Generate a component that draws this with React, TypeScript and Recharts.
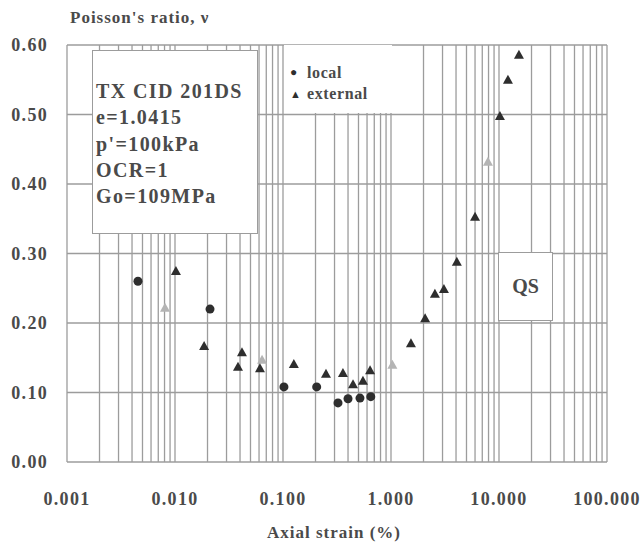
import { CartesianGrid, Scatter, ScatterChart, XAxis, YAxis } from "recharts";

// axial strain (%) / Poisson's ratio
const localStrain = [0.00454, 0.0211, 0.102, 0.205, 0.323, 0.4, 0.516, 0.65];
const localNu = [0.26, 0.22, 0.108, 0.108, 0.085, 0.091, 0.092, 0.094];

const externalStrain = [
  0.0102, 0.0186, 0.0417, 0.0383, 0.0612, 0.126, 0.25, 0.359, 0.445, 0.55, 0.64,
  1.53, 2.07, 2.55, 3.09, 4.07, 6.0, 10.2, 12.1, 15.3,
];
const externalNu = [
  0.275, 0.167, 0.158, 0.137, 0.135, 0.141, 0.127, 0.128, 0.112, 0.117, 0.132,
  0.171, 0.207, 0.242, 0.249, 0.288, 0.353, 0.498, 0.55, 0.586,
];

// points that barely printed in the scan
const fadedStrain = [0.00808, 0.064, 1.03, 7.9];
const fadedNu = [0.222, 0.147, 0.14, 0.432];

const decades = [0.001, 0.01, 0.1, 1, 10];
const minorSteps = [1, 2, 3, 4, 5, 6, 7, 8, 9];
const strainTicks = decades
  .flatMap((d) => minorSteps.map((k) => Number((d * k).toPrecision(3))))
  .concat(100);
const nuTicks = [0, 0.1, 0.2, 0.3, 0.4, 0.5, 0.6];

const specimen = ["TX CID 201DS", "e=1.0415", "p'=100kPa", "OCR=1", "Go=109MPa"];

const toPoints = (xs: number[], ys: number[]) => xs.map((x, i) => ({ x, y: ys[i] }));

const FONT = '"Liberation Serif", "Times New Roman", serif';
const INK = "#4a4a4a";
const GRID = "#9c9c9c";
const MARK = "#2e2e2e";

const isDecade = (v: number) => Math.abs(Math.log10(v) - Math.round(Math.log10(v))) < 1e-6;

function StrainTick({ x, y, payload }: any) {
  if (!isDecade(payload.value)) return null;
  return (
    <text
      x={x}
      y={y + 35}
      textAnchor="middle"
      dominantBaseline="central"
      fill={INK}
      style={{ fontFamily: FONT, fontWeight: 700, fontSize: 18, letterSpacing: 1.3 }}
    >
      {payload.value.toFixed(3)}
    </text>
  );
}

function NuTick({ x, y, payload }: any) {
  return (
    <text
      x={x}
      y={y}
      textAnchor="end"
      dominantBaseline="central"
      fill={INK}
      style={{ fontFamily: FONT, fontWeight: 700, fontSize: 18, letterSpacing: 1.3 }}
    >
      {payload.value.toFixed(2)}
    </text>
  );
}

const Dot = ({ cx, cy }: any) => <circle cx={cx} cy={cy} r={4.5} fill={MARK} />;

const Tri = ({ cx, cy, fill }: any) => (
  <path d={`M${cx},${cy - 5} L${cx + 5},${cy + 4} L${cx - 5},${cy + 4} Z`} fill={fill ?? MARK} />
);

const FadedTri = (props: any) => <Tri {...props} fill="#b4b4b4" />;

const boxStyle = {
  position: "absolute" as const,
  boxSizing: "border-box" as const,
  background: "#fff",
  fontFamily: FONT,
  fontWeight: 700,
  color: INK,
};

export default function App() {
  const row = { display: "flex", alignItems: "center", height: 21 };
  return (
    <div style={{ position: "absolute", left: 0, top: 0, width: 644, height: 543, background: "#fff" }}>
      <ScatterChart width={644} height={543} margin={{ top: 45, right: 37, bottom: 41, left: 0 }}>
        <CartesianGrid stroke={GRID} strokeWidth={1.3} />
        <XAxis
          dataKey="x"
          type="number"
          scale="log"
          domain={[0.001, 100]}
          ticks={strainTicks}
          interval={0}
          allowDataOverflow
          axisLine={false}
          tickLine={false}
          tickSize={0}
          height={40}
          tick={<StrainTick />}
          label={{
            content: ({ viewBox }: any) => (
              <text
                x={viewBox.x + viewBox.width / 2 - 3}
                y={viewBox.y + 70}
                textAnchor="middle"
                dominantBaseline="central"
                fill={INK}
                style={{ fontFamily: FONT, fontWeight: 700, fontSize: 17, letterSpacing: 1 }}
              >
                Axial strain (%)
              </text>
            ),
          }}
        />
        <YAxis
          dataKey="y"
          type="number"
          domain={[0, 0.6]}
          ticks={nuTicks}
          interval={0}
          axisLine={false}
          tickLine={false}
          tickSize={0}
          tickMargin={19}
          width={67}
          tick={<NuTick />}
          label={{
            content: ({ viewBox }: any) => (
              <text
                x={viewBox.x + viewBox.width + 3}
                y={viewBox.y - 28}
                dominantBaseline="central"
                fill={INK}
                style={{ fontFamily: FONT, fontWeight: 700, fontSize: 17, letterSpacing: 1 }}
              >
                Poisson's ratio, ν
              </text>
            ),
          }}
        />
        <Scatter name="faded" data={toPoints(fadedStrain, fadedNu)} shape={<FadedTri />} isAnimationActive={false} />
        <Scatter name="external" data={toPoints(externalStrain, externalNu)} shape={<Tri />} isAnimationActive={false} />
        <Scatter name="local" data={toPoints(localStrain, localNu)} shape={<Dot />} isAnimationActive={false} />
      </ScatterChart>

      {/* legend */}
      <div
        style={{
          ...boxStyle,
          left: 284,
          top: 45,
          width: 108,
          height: 68,
          paddingTop: 17,
          paddingLeft: 6,
          fontSize: 16,
          letterSpacing: 0.6,
        }}
      >
        <div style={row}>
          <span style={{ fontSize: 12, width: 17, color: MARK }}>●</span>local
        </div>
        <div style={row}>
          <span style={{ fontSize: 11, width: 17, color: MARK }}>▲</span>external
        </div>
      </div>

      <div
        style={{
          ...boxStyle,
          left: 92,
          top: 50,
          width: 166,
          height: 184,
          border: `1.5px solid ${GRID}`,
          paddingTop: 27,
          paddingLeft: 3,
          fontSize: 20,
          letterSpacing: 1.4,
          lineHeight: "26.25px",
          whiteSpace: "nowrap",
        }}
      >
        {specimen.map((line) => (
          <div key={line}>{line}</div>
        ))}
      </div>

      <div
        style={{
          ...boxStyle,
          left: 498,
          top: 252,
          width: 55,
          height: 69,
          border: `1.5px solid ${GRID}`,
          display: "flex",
          alignItems: "center",
          justifyContent: "center",
          fontSize: 20,
        }}
      >
        QS
      </div>
    </div>
  );
}
